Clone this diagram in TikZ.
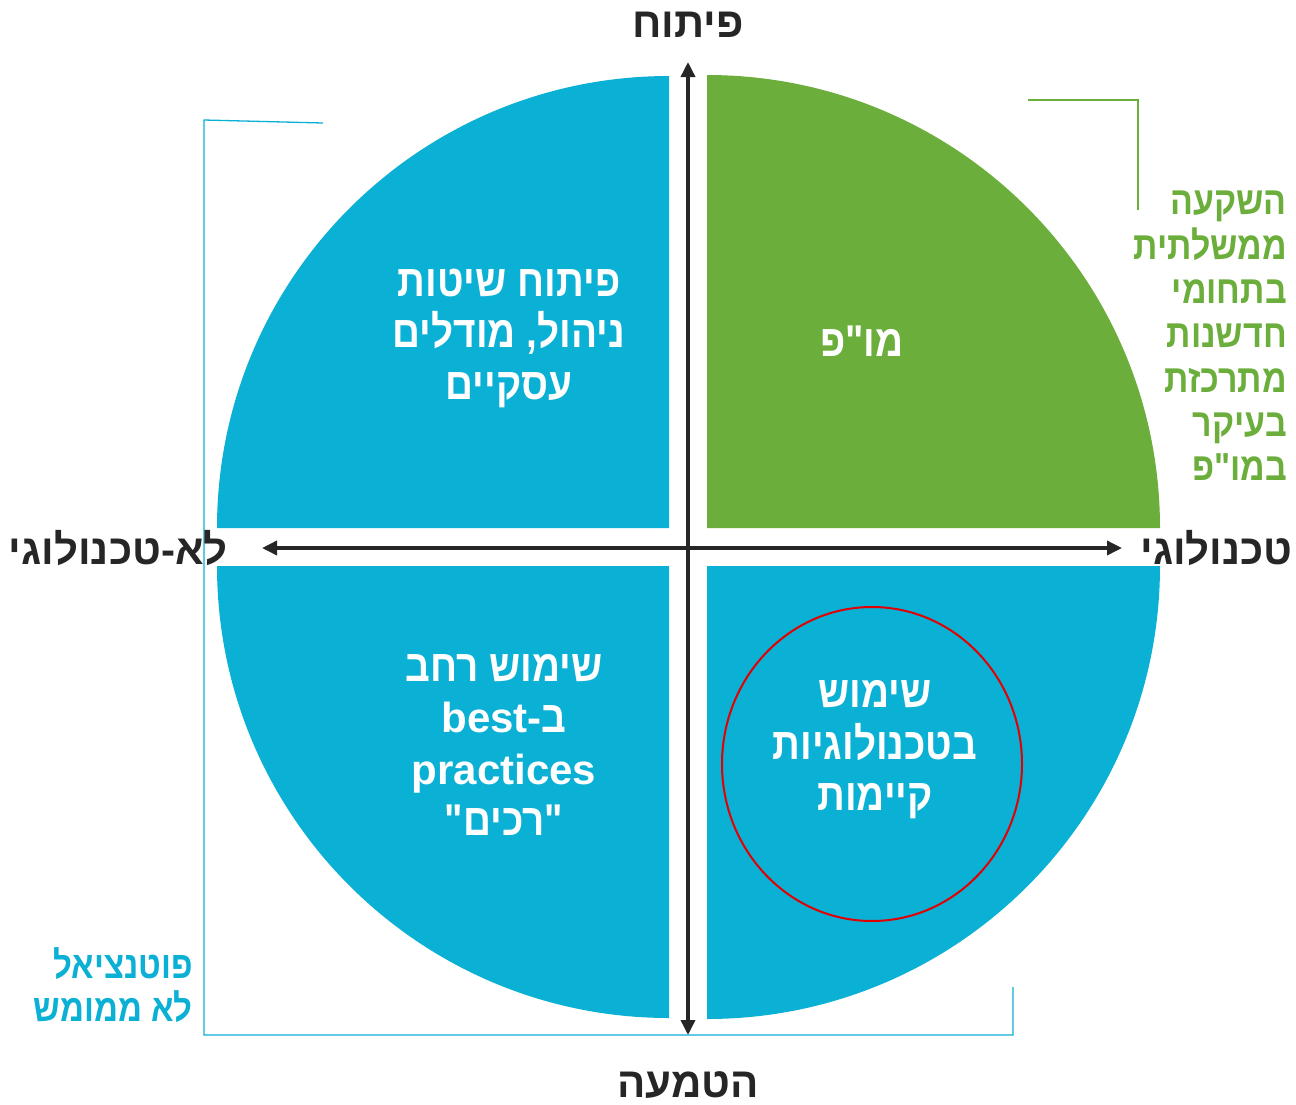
\documentclass[tikz,border=0pt]{standalone}
\usepackage{fontspec}
\newfontfamily\heb[Script=Hebrew]{Liberation Sans}
\newfontfamily\hebn[Script=Hebrew, FakeStretch=0.87]{Liberation Sans}
\newfontfamily\latf{Liberation Sans}
\TeXXeTstate=1
\usetikzlibrary{arrows.meta}
\definecolor{qblue}{RGB}{11,176,213}
\definecolor{qgreen}{RGB}{107,174,60}
\definecolor{ink}{RGB}{38,38,38}
\definecolor{qred}{RGB}{226,0,0}
\newcommand\hl[1]{\beginR #1\endR}
\newcommand\latin[1]{{\latf\bfseries\fontsize{42}{51.5}\selectfont #1}}
\tikzset{
  qtext/.style={font=\hebn\bfseries\fontsize{44.5}{51.5}\selectfont, text=white, align=center, inner sep=0pt},
  axlabel/.style={font=\heb\bfseries\fontsize{42}{50}\selectfont, text=ink, inner sep=0pt},
  sidetext/.style={font=\hebn\bfseries\fontsize{39}{44.3}\selectfont, align=right, inner sep=0pt},
  axisline/.style={draw=ink, line width=3.5pt, {Triangle[length=15pt,width=14pt]}-{Triangle[length=15pt,width=14pt]}},
  bracket/.style={line width=1.3pt}
}
\begin{document}
\begin{tikzpicture}[x=1pt,y=1pt]
\useasboundingbox[fill=white] (0,0) rectangle (1296,-1104);
% quadrants
\fill[qblue] (669,-528) -- (217,-528) arc[start angle=180,end angle=90,radius=452] -- cycle;
\fill[qgreen] (707,-528) -- (707,-75) arc[start angle=90,end angle=0,radius=453] -- cycle;
\fill[qblue] (669,-566) -- (217,-566) arc[start angle=180,end angle=270,radius=452] -- cycle;
\fill[qblue] (707,-566) -- (1160,-566) arc[start angle=0,end angle=-90,radius=453] -- cycle;
% red circle
\draw[qred, line width=2pt] (872,-764) ellipse [x radius=150, y radius=157];
% axes
\coordinate (top) at (688,-62);
\coordinate (bot) at (688,-1035);
\coordinate (lft) at (262,-548);
\coordinate (rgt) at (1122,-548);
\draw[axisline] (bot) -- (top);
\draw[axisline] (lft) -- (rgt);
% brackets
\coordinate (b1) at (323,-123);
\coordinate (b2) at (204,-120);
\coordinate (b3) at (204,-1035);
\coordinate (b4) at (1013,-1035);
\coordinate (b5) at (1013,-987);
\draw[bracket, qblue] (b1) -- (b2) -- (b3) -- (b4) -- (b5);
\coordinate (g1) at (1028,-100);
\coordinate (g2) at (1138,-100);
\coordinate (g3) at (1138,-210);
\draw[bracket, qgreen] (g1) -- (g2) -- (g3);
% axis labels
\node[axlabel] (lup) at (688,-25) {\hl{פיתוח}};
\node[axlabel] (ldown) at (688,-1085) {\hl{הטמעה}};
\node[axlabel, anchor=east] (lleft) at (228,-548) {\hl{לא-טכנולוגי}};
\node[axlabel, anchor=east] (lright) at (1293,-548) {\hl{טכנולוגי}};
% quadrant texts
\node[qtext] (tl) at (509,-338) {\hl{פיתוח שיטות}\\\hl{ניהול, מודלים}\\\hl{עסקיים}};
\node[qtext] (tr) at (862,-341) {\hl{מו"פ}};
\node[qtext] (bl) at (504,-745) {\hl{שימוש רחב}\\\hl{ב\beginL\latin{best-}\endL}\\\latin{practices}\\\hl{"רכים"}};
\node[qtext] (br) at (875,-750) {\hl{שימוש}\\\hl{בטכנולוגיות}\\\hl{קיימות}};
% side texts
\node[sidetext, text=qgreen, anchor=east] (gov) at (1287,-336) {\hl{השקעה}\\\hl{ממשלתית}\\\hl{בתחומי}\\\hl{חדשנות}\\\hl{מתרכזת}\\\hl{בעיקר}\\\hl{במו"פ}};
\node[sidetext, font=\hebn\bfseries\fontsize{38}{43.5}\selectfont, text=qblue, anchor=east] (pot) at (193,-985) {\hl{פוטנציאל}\\\hl{לא ממומש}};
\end{tikzpicture}
\end{document}
